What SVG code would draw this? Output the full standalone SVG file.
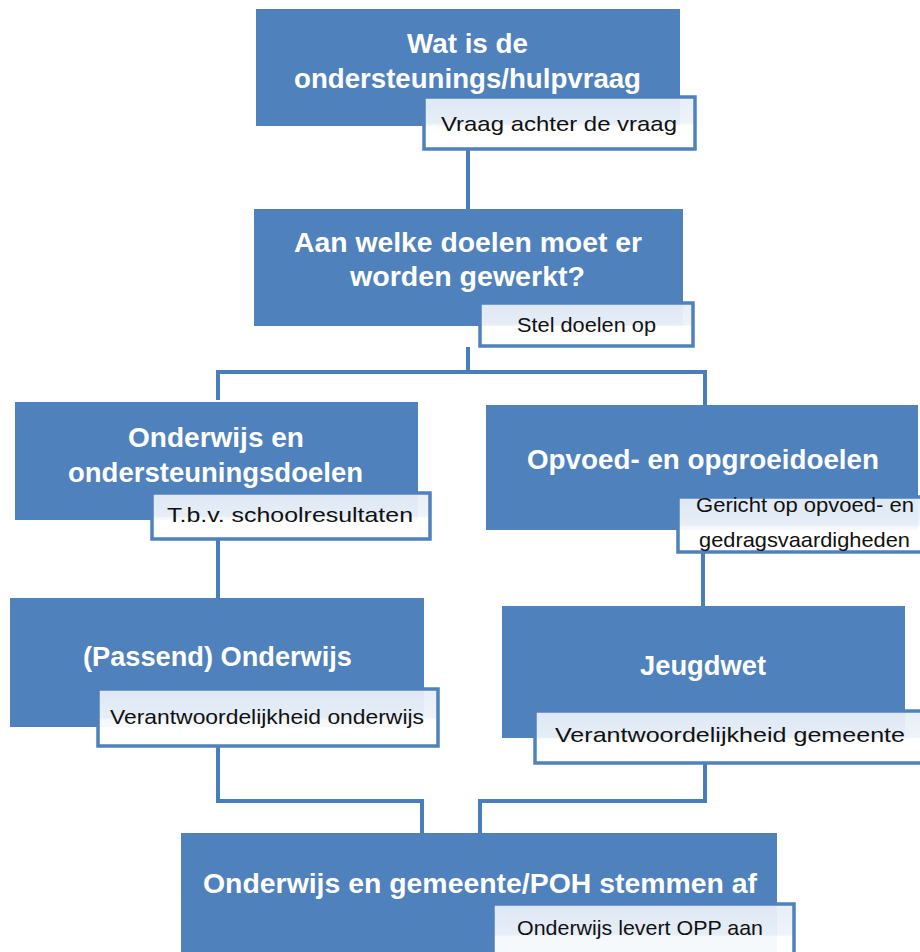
<svg xmlns="http://www.w3.org/2000/svg" width="920" height="952" viewBox="0 0 920 952">
<defs>
<linearGradient id="lg" x1="0" y1="0" x2="0" y2="1">
<stop offset="0" stop-color="#e6edf7"/>
<stop offset="0.5" stop-color="#eef3fa"/>
<stop offset="0.55" stop-color="#ffffff"/>
<stop offset="1" stop-color="#ffffff"/>
</linearGradient>
</defs>
<style>
.box{fill:#4f81bd;}
.lab{fill:url(#lg);fill-opacity:0.95;stroke:#4f81bd;stroke-width:3.5;}
.t{font-family:"Liberation Sans","Open Sans",sans-serif;font-weight:bold;font-size:27px;fill:#ffffff;}
.s{font-family:"Liberation Sans","Open Sans",sans-serif;font-size:21px;fill:#111111;}
.c{fill:none;stroke:#4a7ebb;stroke-width:4;}
</style>
<rect width="920" height="952" fill="#ffffff"/>
<g id="connectors">
<path class="c" d="M468 150 V209"/>
<path class="c" d="M468 347 V372"/>
<path class="c" d="M218 400 V372 H705 V405"/>
<path class="c" d="M218 540 V598"/>
<path class="c" d="M703 553 V606"/>
<path class="c" d="M218 747 V801 H422 V833"/>
<path class="c" d="M705 764 V801 H480 V833"/>
</g>
<g id="n1">
<rect class="box" x="256" y="9" width="424" height="117"/>
<text class="t" x="407" y="53" textLength="121" lengthAdjust="spacingAndGlyphs">Wat is de</text>
<text class="t" x="294" y="88" textLength="347" lengthAdjust="spacingAndGlyphs">ondersteunings/hulpvraag</text>
<rect class="lab" x="424" y="97" width="271" height="52"/>
<text class="s" x="441" y="131" textLength="236" lengthAdjust="spacingAndGlyphs">Vraag achter de vraag</text>
</g>
<g id="n2">
<rect class="box" x="254" y="209" width="429" height="117"/>
<text class="t" x="294" y="252" textLength="348" lengthAdjust="spacingAndGlyphs">Aan welke doelen moet er</text>
<text class="t" x="350" y="286" textLength="235" lengthAdjust="spacingAndGlyphs">worden gewerkt?</text>
<rect class="lab" x="480" y="303" width="213" height="43"/>
<text class="s" x="517" y="332" textLength="139" lengthAdjust="spacingAndGlyphs">Stel doelen op</text>
</g>
<g id="n3">
<rect class="box" x="15" y="402" width="403" height="118"/>
<text class="t" x="128" y="447" textLength="176" lengthAdjust="spacingAndGlyphs">Onderwijs en</text>
<text class="t" x="68" y="482" textLength="295" lengthAdjust="spacingAndGlyphs">ondersteuningsdoelen</text>
<rect class="lab" x="152" y="493" width="278" height="46"/>
<text class="s" x="167" y="522" textLength="246" lengthAdjust="spacingAndGlyphs">T.b.v. schoolresultaten</text>
</g>
<g id="n4">
<rect class="box" x="486" y="405" width="432" height="125"/>
<text class="t" x="527" y="469" textLength="352" lengthAdjust="spacingAndGlyphs">Opvoed- en opgroeidoelen</text>
<rect class="lab" x="678" y="497" width="260" height="55"/>
<text class="s" x="696" y="512" textLength="218" lengthAdjust="spacingAndGlyphs">Gericht op opvoed- en</text>
<text class="s" x="699" y="547" textLength="211" lengthAdjust="spacingAndGlyphs">gedragsvaardigheden</text>
</g>
<g id="n5">
<rect class="box" x="10" y="598" width="414" height="129"/>
<text class="t" x="83" y="666" textLength="269" lengthAdjust="spacingAndGlyphs">(Passend) Onderwijs</text>
<rect class="lab" x="98" y="689" width="340" height="57"/>
<text class="s" x="110" y="724" textLength="314" lengthAdjust="spacingAndGlyphs">Verantwoordelijkheid onderwijs</text>
</g>
<g id="n6">
<rect class="box" x="502" y="606" width="403" height="132"/>
<text class="t" x="640" y="675" textLength="126" lengthAdjust="spacingAndGlyphs">Jeugdwet</text>
<rect class="lab" x="535" y="711" width="400" height="52"/>
<text class="s" x="555" y="742" textLength="350" lengthAdjust="spacingAndGlyphs">Verantwoordelijkheid gemeente</text>
</g>
<g id="n7">
<rect class="box" x="181" y="833" width="596" height="130"/>
<text class="t" x="203" y="893" textLength="554" lengthAdjust="spacingAndGlyphs">Onderwijs en gemeente/POH stemmen af</text>
<rect class="lab" x="493" y="904" width="301" height="60"/>
<text class="s" x="517" y="935" textLength="246" lengthAdjust="spacingAndGlyphs">Onderwijs levert OPP aan</text>
</g>
</svg>
